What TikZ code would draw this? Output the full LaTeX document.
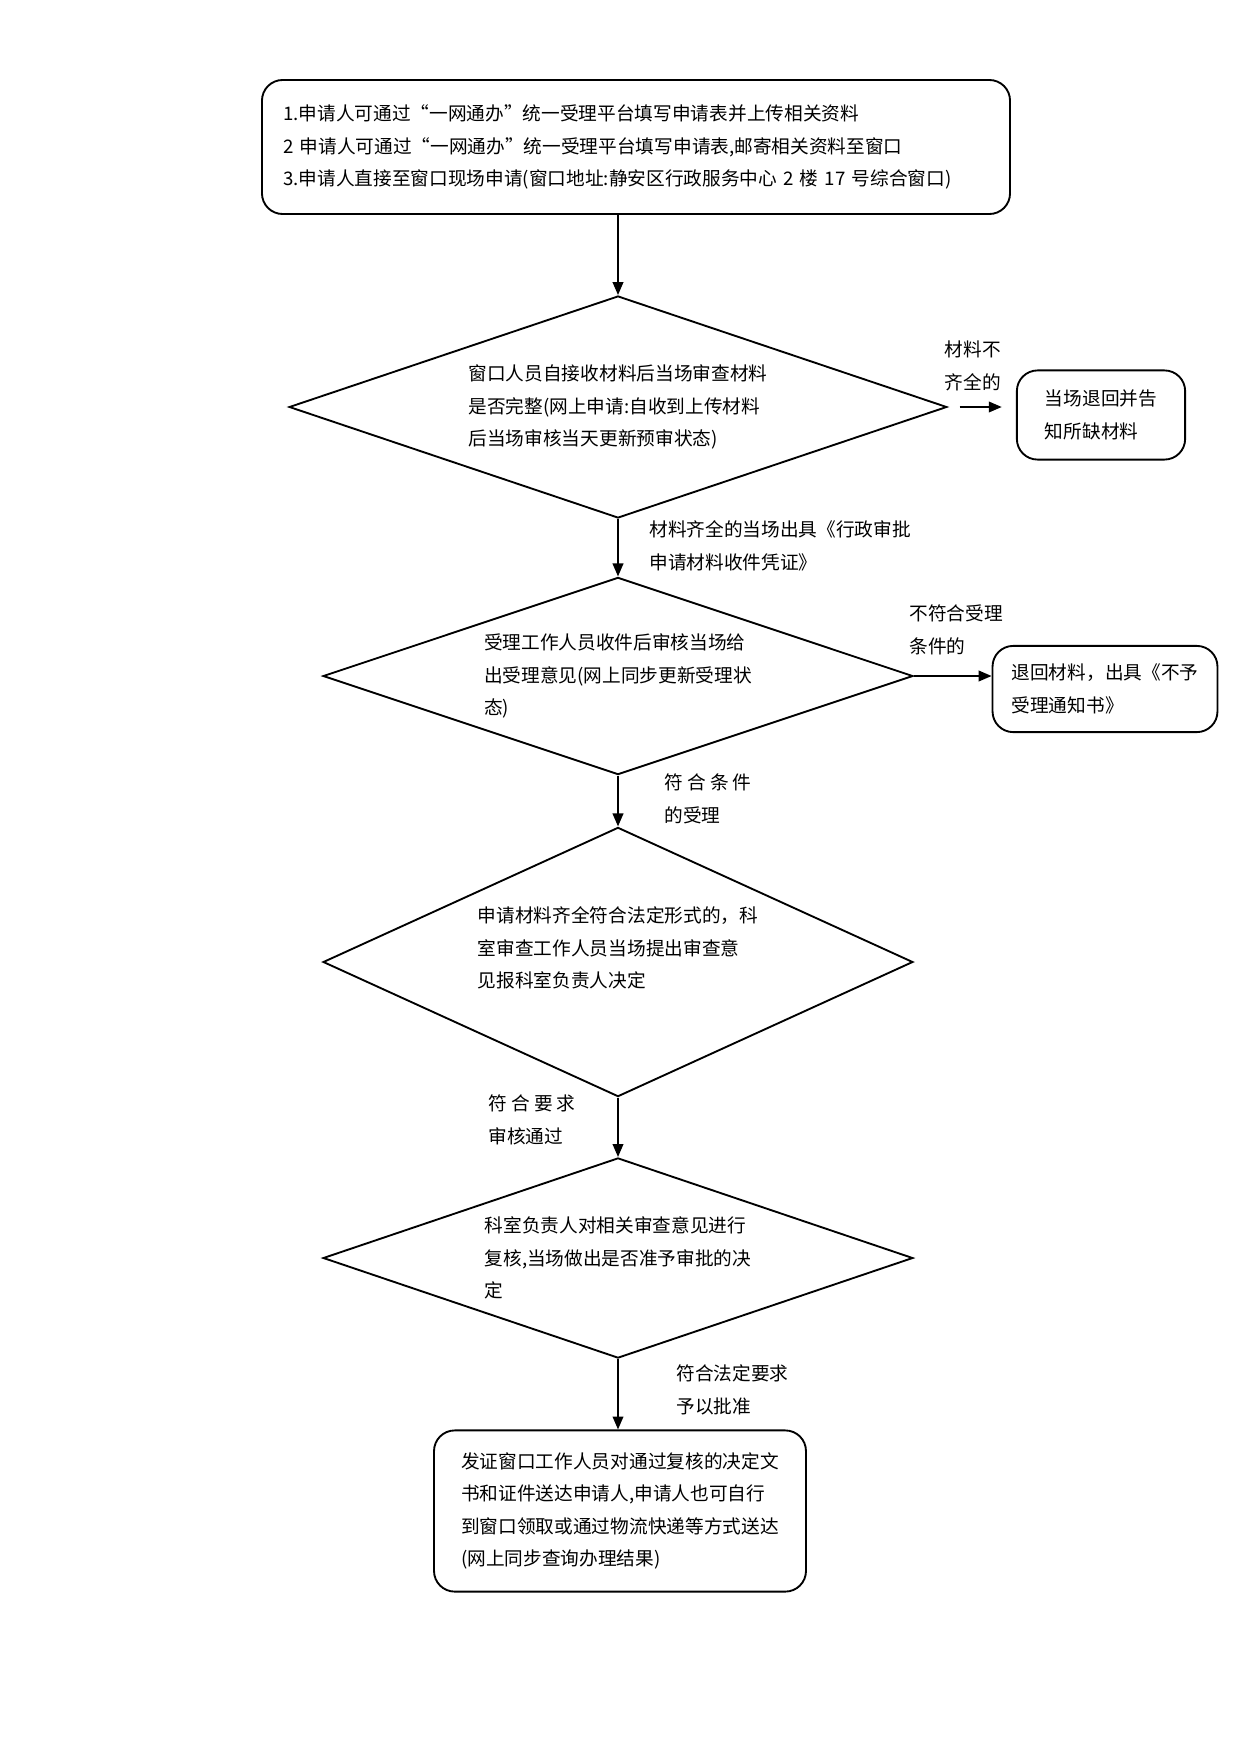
\documentclass[tikz,border=0pt]{standalone}
\usepackage{fontspec}
\setmainfont{Noto Sans CJK SC}
\usetikzlibrary{shapes.geometric,arrows.meta}

\begin{document}
\begin{tikzpicture}[x=0.016935cm,y=-0.016935cm,
  every node/.style={font=\fontsize{9pt}{15.6pt}\selectfont},
  box/.style={draw,rounded corners=0.35cm,line width=0.9pt,align=left},
  choice/.style={draw,diamond,aspect=3,inner sep=0pt,line width=0.9pt,align=left},
  flow/.style={-{Triangle[length=2.2mm,width=1.8mm]},line width=0.9pt}]
  \useasboundingbox (0,0) rectangle (1240,1753);
  \node[box,minimum width=12.67cm,minimum height=2.27cm,text width=11.95cm] (apply) at (636,147)
    {1.申请人可通过“一网通办”统一受理平台填写申请表并上传相关资料\\
     2 申请人可通过“一网通办”统一受理平台填写申请表,邮寄相关资料至窗口\\
     3.申请人直接至窗口现场申请(窗口地址:静安区行政服务中心 2 楼 17 号综合窗口)};
  \node[choice,minimum width=11.14cm,minimum height=3.76cm] (d1) at (618,407)
    {窗口人员自接收材料后当场审查材料\\是否完整(网上申请:自收到上传材料\\后当场审核当天更新预审状态)};
  \node[box,minimum width=2.85cm,minimum height=1.51cm] (back1) at (1101,415)
    {当场退回并告\\知所缺材料};
  \node[choice,minimum width=9.99cm,minimum height=3.34cm] (d2) at (618,676)
    {受理工作人员收件后审核当场给\\出受理意见(网上同步更新受理状\\态)};
  \node[box,minimum width=3.81cm,minimum height=1.46cm] (back2) at (1105,689)
    {退回材料，出具《不予\\受理通知书》};
  \node[choice,minimum width=9.99cm,minimum height=4.56cm] (d3) at (618,962) {};
  \node[align=left] (d3text) at (618,948)
    {申请材料齐全符合法定形式的，科\\室审查工作人员当场提出审查意\\见报科室负责人决定};
  \node[choice,minimum width=9.99cm,minimum height=3.39cm] (d4) at (618,1258)
    {科室负责人对相关审查意见进行\\复核,当场做出是否准予审批的决\\定};
  \node[box,minimum width=6.3cm,minimum height=2.73cm] (done) at (620,1511)
    {发证窗口工作人员对通过复核的决定文\\书和证件送达申请人,申请人也可自行\\到窗口领取或通过物流快递等方式送达\\(网上同步查询办理结果)};

  % labels on the connectors
  \node[align=center] (lack) at (973,366) {材料不\\齐全的};
  \node[anchor=west,align=left] (full) at (642,546) {材料齐全的当场出具《行政审批\\申请材料收件凭证》};
  \node[anchor=west,align=left] (unfit) at (902,630) {不符合受理\\条件的};
  \node[anchor=west,align=left] (fit) at (657,799) {符 合 条 件\\的受理};
  \node[anchor=west,align=left] (pass) at (481,1120) {符 合 要 求\\审核通过};
  \node[anchor=west,align=left] (grant) at (669,1390) {符合法定要求\\予以批准};

  \draw[flow] (d1.north |- apply.south) -- (d1.north);
  \draw[flow,shorten <=0.2cm,shorten >=0.24cm] (d1.east) -- (d1.east -| back1.west);
  \draw[flow] (d1.south) -- (d2.north);
  \draw[flow] (d2.east) -- (d2.east -| back2.west);
  \draw[flow] (d2.south) -- (d3.north);
  \draw[flow] (d3.south) -- (d4.north);
  \draw[flow] (d4.south) -- (d4.south |- done.north);
\end{tikzpicture}
\end{document}
